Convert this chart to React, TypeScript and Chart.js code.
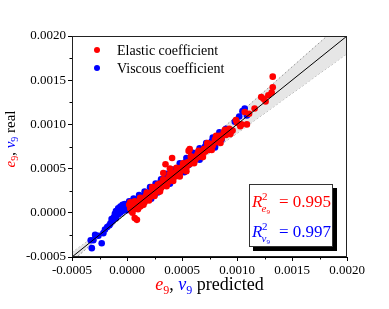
import React, { useEffect, useRef } from 'react';
import { Chart, registerables } from 'chart.js';

Chart.register(...registerables);

// All series values below are in units of 1e-4
const UNIT = 1e-4;

const elasticPredicted = [
  0.2, 0.3, 0.4, 0.5, 0.6, 0.7, 0.8, 0.9, 0.9, 1.0, 1.1, 1.2, 1.3, 1.4, 1.5, 1.6, 1.7, 1.8, 1.9, 2.0,
  2.1, 2.2, 2.3, 2.4, 2.5, 2.6, 2.7, 2.8, 2.9, 3.0, 3.1, 3.2, 3.3, 3.4, 3.5, 3.5, 3.6, 3.7, 3.8, 3.9,
  4.0, 4.1, 4.1, 4.2, 4.3, 4.4, 4.5, 4.6, 4.7, 4.8, 4.9, 5.0, 5.1, 5.2, 5.3, 5.4, 5.5, 5.6, 5.7, 5.7,
  5.8, 6.0, 6.1, 6.2, 6.4, 6.5, 6.6, 6.8, 7.0, 7.1, 7.3, 7.4, 7.6, 7.8, 8.0, 8.2, 8.4, 8.6, 8.8, 9.0,
  9.3, 9.6, 10.0, 10.4, 10.7, 10.9, 11.1, 11.6, 12.2, 12.4, 12.6, 12.85, 13.15, 13.25, 13.25,
  0.3, 0.5, 0.7, 1.0, 1.2, 1.5, 1.8, 2.0, 2.3, 2.5, 2.8, 3.0, 3.3, 3.6, 3.9, 4.2, 4.5, 4.8, 5.1, 5.4,
  5.8, 6.1, 6.5, 6.9, 7.3, 7.7, 8.1, 8.5, 8.9, 9.4, 9.9, 10.3,
];
const elasticReal = [
  0.9, 0.5, 0.2, 0.8, 0.4, -0.6, 1.0, 0.6, -0.8, 1.2, 0.9, 0.7, 1.5, 1.1, 1.4, 1.2, 1.9, 1.5, 1.6, 2.2,
  1.8, 2.0, 2.5, 2.1, 2.6, 2.3, 2.9, 2.5, 2.7, 3.3, 2.8, 3.1, 4.5, 3.5, 5.5, 3.2, 3.7, 3.4, 4.0, 5.0,
  3.8, 6.2, 4.2, 4.0, 4.5, 4.1, 4.7, 4.4, 4.9, 4.5, 5.1, 4.8, 5.3, 5.0, 5.5, 5.1, 5.7, 7.0, 7.2, 5.5,
  6.0, 5.8, 6.3, 6.0, 6.6, 6.3, 6.8, 6.6, 7.2, 6.9, 7.5, 7.1, 7.8, 7.6, 8.3, 8.0, 8.7, 8.4, 9.1, 8.8,
  9.5, 9.3, 10.2, 10.0, 11.4, 10.0, 11.2, 11.8, 13.1, 12.9, 12.6, 13.3, 13.6, 14.2, 15.4,
  1.2, 0.0, 1.3, 0.4, 1.7, 0.9, 2.3, 1.4, 2.9, 1.9, 3.2, 2.4, 3.8, 3.0, 4.4, 3.6, 5.1, 4.1, 5.6, 4.7,
  6.4, 5.6, 7.0, 6.3, 7.9, 7.1, 8.7, 7.9, 9.4, 8.9, 10.5, 9.8,
];

const viscousPredicted = [
  -3.3, -3.2, -3.06, -2.9, -2.6, -2.3, -2.15, -2.0, -1.8, -1.6, -1.5, -1.3, -1.2, -1.1, -1.0, -0.9,
  -0.8, -0.7, -0.6, -0.5, -0.4, -0.3, -0.2, -0.1, 0.0, 0.1, 0.3, 0.5, 0.8, 1.0, 1.3, 1.5, 1.8, 2.0,
  2.2, 2.3, 2.6, 2.8, 2.9, 3.2, 3.5, 3.8, 4.1, 4.4, 4.7, 5.0, 5.3, 5.6, 5.9, 6.2, 6.5, 6.8, 7.1, 7.4,
  7.7, 8.0, 8.3, 8.6, 9.0, 9.4, 9.8, 10.2, 10.5, 10.7, 10.9,
  -1.4, -1.0, -0.8, -0.6, -0.4, -0.2, 0.0, 0.2, 0.4, 0.6, 1.1, 1.6, 2.1, 2.6, 3.1, 3.6, 4.2, 4.8, 5.4,
  6.0, 6.6, 7.2, 7.8, 8.4, 1.2, 2.5, 3.9, 5.2, 6.6, 8.0,
];
const viscousReal = [
  -3.1, -4.0, -3.1, -2.5, -2.6, -3.45, -2.3, -1.9, -1.6, -1.4, -1.2, -0.9, -0.5, -0.1, -0.6, 0.1,
  -0.2, 0.3, 0.0, 0.5, 0.2, 0.8, 0.4, 0.6, 0.3, 0.9, 0.6, 1.1, 1.3, 1.5, 1.2, 1.9, 2.1, 1.9,
  1.6, 2.7, 2.4, 2.3, 3.3, 3.0, 3.9, 3.6, 4.5, 4.2, 5.1, 4.8, 5.7, 5.4, 6.3, 6.0, 6.9, 6.6, 7.5, 7.2,
  8.1, 7.8, 8.7, 8.3, 9.5, 9.1, 10.3, 10.9, 11.5, 11.8, 11.0,
  -0.7, 0.2, 0.5, 0.7, 0.9, 1.0, 1.0, 1.3, 0.3, 1.6, 2.0, 2.4, 2.9, 3.3, 3.8, 4.4, 4.9, 5.6, 6.2,
  6.8, 7.3, 7.9, 8.5, 9.1, 0.8, 2.0, 3.3, 4.6, 6.0, 7.4,
];

// reference line y = x and ±10 % band
const identityX = [-5, 20];
const identityY = [-5, 20];
const bandX = [-5, 20];
const bandUpper = [-5.5, 22];
const bandLower = [-4.5, 18];

const axisMin = -0.0005;
const axisMax = 0.002;
const axisStep = 0.0005;

const legendLabels = ['Elastic coefficient', 'Viscous coefficient'];
const r2Values = ['0.995', '0.997'];

const RED = '#ff0000';
const BLUE = '#0000ff';
const FONT = "'Liberation Serif', 'Times New Roman', serif";

type Part = { t: string; c: string; s: number; i?: boolean; dy?: number };

function setFont(ctx: CanvasRenderingContext2D, p: Part) {
  ctx.font = `${p.i ? 'italic ' : ''}${p.s}px ${FONT}`;
}
function partsWidth(ctx: CanvasRenderingContext2D, parts: Part[]) {
  let w = 0;
  for (const p of parts) {
    setFont(ctx, p);
    w += ctx.measureText(p.t).width;
  }
  return w;
}
function drawParts(ctx: CanvasRenderingContext2D, parts: Part[], x: number, y: number) {
  let cx = x;
  ctx.textAlign = 'left';
  ctx.textBaseline = 'alphabetic';
  for (const p of parts) {
    setFont(ctx, p);
    ctx.fillStyle = p.c;
    ctx.fillText(p.t, cx, y + (p.dy || 0));
    cx += ctx.measureText(p.t).width;
  }
}

const pts = (xs: number[], ys: number[]) => xs.map((x, i) => ({ x: x * UNIT, y: ys[i] * UNIT }));

const decorPlugin = {
  id: 'decor',
  afterDraw(chart: any) {
    const ctx: CanvasRenderingContext2D = chart.ctx;
    const { left, right, top, bottom } = chart.chartArea;
    const xs = chart.scales.x;
    const ys = chart.scales.y;
    ctx.save();
    // frame
    ctx.strokeStyle = '#222';
    ctx.lineWidth = 1;
    ctx.strokeRect(Math.round(left) + 0.5, Math.round(top) + 0.5, Math.round(right - left) - 1, Math.round(bottom - top) - 1);
    // minor ticks
    ctx.strokeStyle = '#000';
    ctx.beginPath();
    for (let v = axisMin + axisStep / 2; v < axisMax; v += axisStep) {
      const py = Math.round(ys.getPixelForValue(v)) + 0.5;
      ctx.moveTo(left - 2.5, py);
      ctx.lineTo(left, py);
      const px = Math.round(xs.getPixelForValue(v)) + 0.5;
      ctx.moveTo(px, bottom);
      ctx.lineTo(px, bottom + 2.5);
    }
    ctx.stroke();

    // legend
    const colors = [RED, BLUE];
    legendLabels.forEach((lab, i) => {
      const cy = top + 14 + i * 18;
      ctx.fillStyle = colors[i];
      ctx.beginPath();
      ctx.arc(left + 25, cy, 3, 0, Math.PI * 2);
      ctx.fill();
      ctx.fillStyle = '#000';
      ctx.font = `14px ${FONT}`;
      ctx.textAlign = 'left';
      ctx.textBaseline = 'middle';
      ctx.fillText(lab, left + 45, cy + 1);
    });

    // x title
    const xParts: Part[] = [
      { t: 'e', c: RED, s: 18, i: true },
      { t: '9', c: RED, s: 12, dy: 4 },
      { t: ', ', c: '#000', s: 18 },
      { t: 'v', c: BLUE, s: 18, i: true },
      { t: '9', c: BLUE, s: 12, dy: 4 },
      { t: ' predicted', c: '#000', s: 18 },
    ];
    const xw = partsWidth(ctx, xParts);
    drawParts(ctx, xParts, (left + right) / 2 - xw / 2, 290);

    // y title
    const yParts: Part[] = [
      { t: 'e', c: RED, s: 15, i: true },
      { t: '9', c: RED, s: 10, dy: 3 },
      { t: ', ', c: '#000', s: 15 },
      { t: 'v', c: BLUE, s: 15, i: true },
      { t: '9', c: BLUE, s: 10, dy: 3 },
      { t: ' real', c: '#000', s: 15 },
    ];
    const yw = partsWidth(ctx, yParts);
    ctx.save();
    ctx.translate(15, 139);
    ctx.rotate(-Math.PI / 2);
    drawParts(ctx, yParts, -yw / 2, 0);
    ctx.restore();

    // R² box
    const bx = 249, by = 184, bw = 84, bh = 63;
    ctx.fillStyle = '#000';
    ctx.fillRect(bx + 4, by + 4, bw, bh);
    ctx.fillStyle = '#fff';
    ctx.fillRect(bx, by, bw, bh);
    ctx.strokeStyle = '#333';
    ctx.strokeRect(bx + 0.5, by + 0.5, bw - 1, bh - 1);
    const subs = ['e', 'v'];
    const lineCols = [RED, BLUE];
    [207, 237].forEach((base, i) => {
      const c = lineCols[i];
      drawParts(ctx, [{ t: 'R', c, s: 17, i: true }], 252, base);
      drawParts(ctx, [{ t: '2', c, s: 11 }], 262, base - 7);
      drawParts(ctx, [{ t: subs[i], c, s: 11, i: true }], 261.5, base + 5);
      drawParts(ctx, [{ t: '9', c, s: 7 }], 266.5, base + 7);
      drawParts(ctx, [{ t: '= ' + r2Values[i], c, s: 17 }], 279, base);
    });
    ctx.restore();
  },
};

function fmt(v: number) {
  const val = Math.abs(v) < 1e-10 ? 0 : v;
  return val.toFixed(4);
}

export default function App() {
  const ref = useRef<HTMLCanvasElement>(null);
  useEffect(() => {
    if (!ref.current) return;
    const tickFont = { family: FONT, size: 13 };
    const chart = new Chart(ref.current, {
      type: 'scatter',
      data: {
        datasets: [
          {
            label: 'identity',
            data: pts(identityX, identityY),
            showLine: true,
            borderColor: '#000',
            borderWidth: 1,
            pointRadius: 0,
            order: 0,
          },
          {
            label: legendLabels[0],
            data: pts(elasticPredicted, elasticReal),
            backgroundColor: RED,
            borderWidth: 0,
            pointRadius: 3.3,
            order: 1,
          },
          {
            label: legendLabels[1],
            data: pts(viscousPredicted, viscousReal),
            backgroundColor: BLUE,
            borderWidth: 0,
            pointRadius: 3.3,
            order: 2,
          },
          {
            label: 'upper',
            data: pts(bandX, bandUpper),
            showLine: true,
            borderColor: '#999',
            borderWidth: 1,
            borderDash: [2, 2],
            pointRadius: 0,
            fill: '+1',
            backgroundColor: 'rgba(230,230,230,1)',
            order: 3,
          },
          {
            label: 'lower',
            data: pts(bandX, bandLower),
            showLine: true,
            borderColor: '#999',
            borderWidth: 1,
            borderDash: [2, 2],
            pointRadius: 0,
            order: 4,
          },
        ],
      },
      options: {
        animation: false,
        responsive: false,
        maintainAspectRatio: false,
        layout: { padding: { left: 0, top: 36, right: 42, bottom: 0 } },
        plugins: { legend: { display: false }, tooltip: { enabled: false } },
        scales: {
          x: {
            type: 'linear',
            min: axisMin,
            max: axisMax,
            ticks: { stepSize: axisStep, autoSkip: false, maxRotation: 0, padding: 2, color: '#000', font: tickFont, callback: (v: any) => fmt(Number(v)) },
            grid: { drawOnChartArea: false, drawTicks: true, tickLength: 4, color: '#000' },
            border: { color: '#000', width: 1 },
            afterFit: (s: any) => { s.height = 52; },
          },
          y: {
            type: 'linear',
            min: axisMin,
            max: axisMax,
            ticks: { stepSize: axisStep, autoSkip: false, padding: 2, color: '#000', font: tickFont, callback: (v: any) => fmt(Number(v)) },
            grid: { drawOnChartArea: false, drawTicks: true, tickLength: 4, color: '#000' },
            border: { color: '#000', width: 1 },
            afterFit: (s: any) => { s.width = 72; },
          },
        },
      } as any,
      plugins: [decorPlugin],
    });
    return () => chart.destroy();
  }, []);
  return (
    <div style={{ position: 'fixed', left: 0, top: 0, width: 389, height: 309, background: '#fff' }}>
      <canvas ref={ref} width={389} height={309} style={{ width: 389, height: 309, display: 'block' }} />
    </div>
  );
}
